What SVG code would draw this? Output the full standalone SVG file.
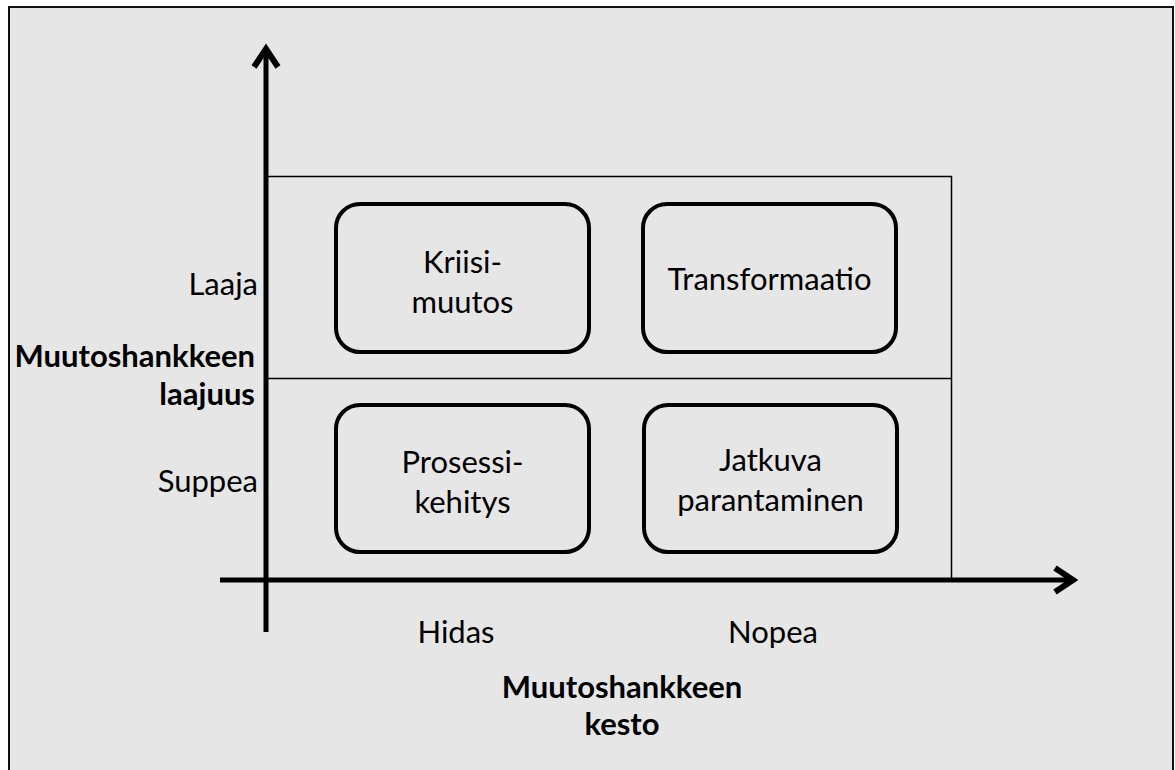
<svg xmlns="http://www.w3.org/2000/svg" width="1175" height="770" viewBox="0 0 1175 770">
<style>
.t{font-family:Lato,"Liberation Sans",sans-serif;font-size:31px;fill:#000}
.b{font-weight:bold}
.box{fill:none;stroke:#000;stroke-width:4}
.grid{fill:none;stroke:#000;stroke-width:1.5}
.axis{fill:none;stroke:#000;stroke-width:5}
.head{fill:none;stroke:#000;stroke-width:6;stroke-linejoin:miter}
</style>
<rect x="0" y="0" width="1175" height="770" fill="#fff"/>
<rect x="9" y="7" width="1164" height="800" fill="#e6e6e6" stroke="#111" stroke-width="2"/>
<g id="grid">
<path class="grid" d="M266 176.5H951.5V580M266 378.5H951.5"/>
</g>
<g id="connectors">
<path class="axis" d="M266 632V50"/>
<path class="head" d="M254 67L266 49L278 67"/>
<path class="axis" d="M220 580H1072"/>
<path class="head" d="M1055 568L1073 580L1055 592"/>
</g>
<g id="node-kriisi">
<rect class="box" x="336" y="204" width="253" height="148" rx="24"/>
<text class="t" x="462.5" y="273" text-anchor="middle">Kriisi-</text>
<text class="t" x="462.5" y="313" text-anchor="middle">muutos</text>
</g>
<g id="node-transformaatio">
<rect class="box" x="643" y="204" width="253" height="148" rx="24"/>
<text class="t" x="769.5" y="290" text-anchor="middle">Transformaatio</text>
</g>
<g id="node-prosessi">
<rect class="box" x="336" y="405" width="253" height="147" rx="24"/>
<text class="t" x="462.5" y="473" text-anchor="middle">Prosessi-</text>
<text class="t" x="462.5" y="513" text-anchor="middle">kehitys</text>
</g>
<g id="node-jatkuva">
<rect class="box" x="644" y="405" width="253" height="147" rx="24"/>
<text class="t" x="770.5" y="471" text-anchor="middle">Jatkuva</text>
<text class="t" x="770.5" y="511" text-anchor="middle">parantaminen</text>
</g>
<g id="labels">
<text class="t" x="258" y="295" text-anchor="end">Laaja</text>
<text class="t" x="258" y="492" text-anchor="end">Suppea</text>
<text class="t b" x="255" y="367" text-anchor="end">Muutoshankkeen</text>
<text class="t b" x="255" y="405" text-anchor="end">laajuus</text>
<text class="t" x="456" y="643" text-anchor="middle">Hidas</text>
<text class="t" x="773" y="643" text-anchor="middle">Nopea</text>
<text class="t b" x="622" y="698" text-anchor="middle">Muutoshankkeen</text>
<text class="t b" x="622" y="735" text-anchor="middle">kesto</text>
</g>
</svg>
